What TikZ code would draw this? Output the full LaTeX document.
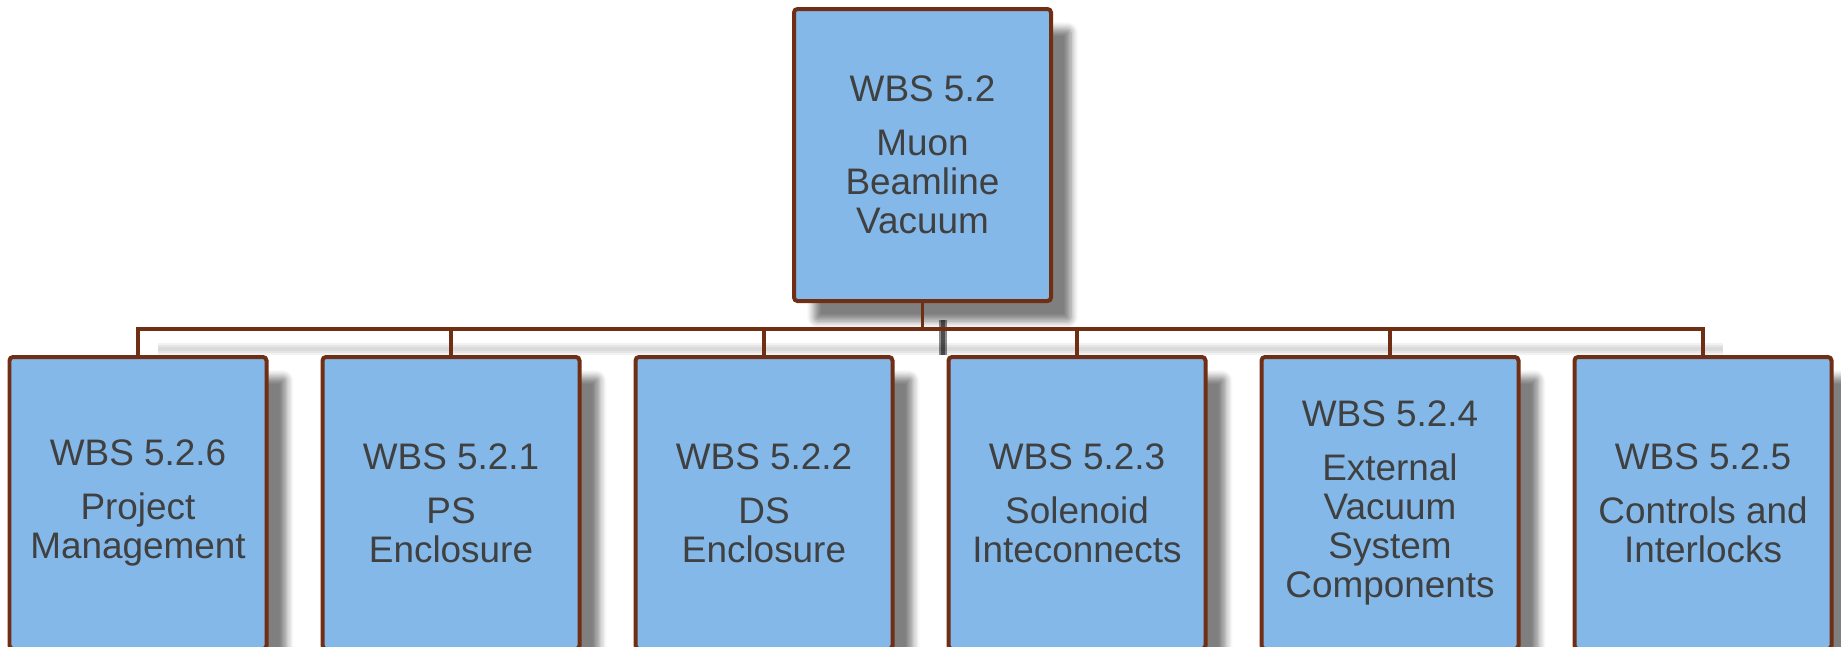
\documentclass[tikz,border=0pt]{standalone}
\usepackage{fontspec}
\setmainfont{Liberation Sans}
\usepackage{xcolor}
\usepackage{tikz}
\usetikzlibrary{calc,positioning,shadows.blur}

\definecolor{wbsfill}{RGB}{131,184,233}
\definecolor{wbsedge}{RGB}{112,46,20}
\definecolor{wbstext}{RGB}{64,64,64}

\begin{document}
\begin{tikzpicture}
  \useasboundingbox (0,0) rectangle (18.41,-6.46);
  \clip (0,0) rectangle (18.41,-6.46);
  \tikzset{
    wbsbox/.style={draw=wbsedge, fill=wbsfill, line width=0.04cm, rounded corners=1pt,
      minimum width=2.57cm, minimum height=2.92cm, inner sep=0pt, align=center,
      text=wbstext, font=\fontsize{10.5}{11.1}\selectfont,
      blur shadow={shadow xshift=0.2cm, shadow yshift=-0.2cm, shadow blur radius=0.07cm,
        shadow blur steps=6, shadow opacity=50}},
    link/.style={draw=wbsedge, line width=0.035cm, line join=miter},
    linkshadow/.style={draw=black, line width=#1, xshift=0.2cm, yshift=-0.2cm}
  }
  \coordinate (bus) at (0,-3.29);
  % soft shadows under the connectors
  \foreach \w in {0.04,0.08,0.12}
    \draw[linkshadow=\w cm, opacity=0.05] (1.38,-3.29) -- (17.03,-3.29);
  \foreach \w in {0.04,0.08}
    \draw[linkshadow=\w cm, opacity=0.45] (9.225,-3.0) -- (9.225,-3.35);

  \node[wbsbox] (top) at (9.225,-1.55) {WBS 5.2\\[4.3pt]Muon\\Beamline\\Vacuum};

  \foreach \n/\x/\txt in {1/1.38/{WBS 5.2.6\\[4.3pt]Project\\Management},
                          2/4.51/{WBS 5.2.1\\[4.3pt]PS\\Enclosure},
                          3/7.64/{WBS 5.2.2\\[4.3pt]DS\\Enclosure},
                          4/10.77/{WBS 5.2.3\\[4.3pt]Solenoid\\Inteconnects},
                          5/13.90/{WBS 5.2.4\\[4.3pt]External\\Vacuum\\System\\Components},
                          6/17.03/{WBS 5.2.5\\[4.3pt]Controls and\\Interlocks}}
    \node[wbsbox] (b\n) at (\x,-5.03) {\txt};

  \foreach \n in {1,...,6}
    \draw[link] (top.south) -- (top.south |- bus) -| (b\n.north);
\end{tikzpicture}
\end{document}
